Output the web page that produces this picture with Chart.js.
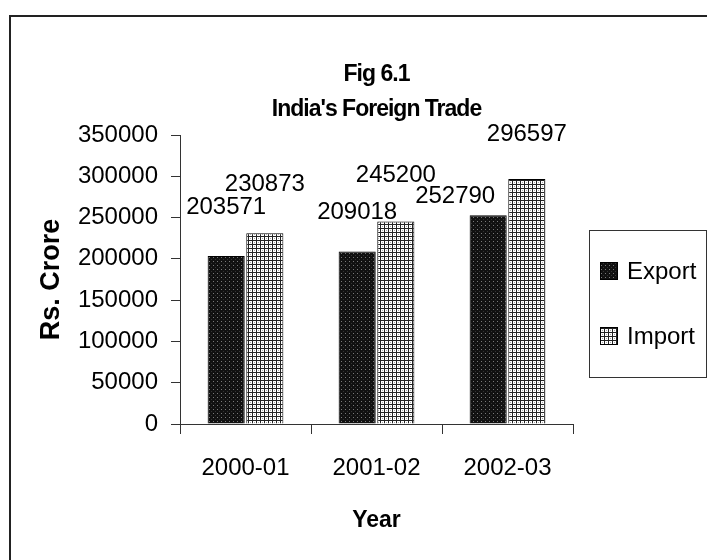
<!DOCTYPE html>
<html>
<head>
<meta charset="utf-8">
<script src="https://cdn.jsdelivr.net/npm/chart.js@4.4.1/dist/chart.umd.min.js"></script>
<style>
  html, body { margin: 0; padding: 0; background: #fff; }
  #wrap { width: 707px; height: 560px; }
</style>
</head>
<body>
<div id="wrap"><canvas id="tradeChart" width="707" height="560"></canvas></div>
<script>
const years = ["2000-01", "2001-02", "2002-03"];
const exportValues = [203571, 209018, 252790];
const importValues = [230873, 245200, 296597];
const yTickValues = [0, 50000, 100000, 150000, 200000, 250000, 300000, 350000];
const titleLines = ["Fig 6.1", "India's Foreign Trade"];

const FONT = "'Liberation Sans', Arial, sans-serif";

// small repeating fills like the old office hatch patterns
function makePattern(kind) {
    const c = document.createElement("canvas");
    c.width = 4;
    c.height = 4;
    const g = c.getContext("2d");
    if (kind === "dots") {
        g.fillStyle = "#111";
        g.fillRect(0, 0, 4, 4);
        g.fillStyle = "#7a7a7a";
        g.fillRect(1, 1, 1, 1);
        g.fillStyle = "#333";
        g.fillRect(3, 3, 1, 1);
    } else {
        g.fillStyle = "#fff";
        g.fillRect(0, 0, 4, 4);
        g.fillStyle = "#222";
        g.fillRect(0, 0, 4, 1);
        g.fillRect(0, 0, 1, 4);
        g.fillStyle = "#aaa";
        g.fillRect(2, 2, 1, 1);
    }
    return g.createPattern(c, "repeat");
}

const exportFill = makePattern("dots");
const importFill = makePattern("grid");

// label nudges relative to the top of each bar: [dx, dy]
const labelNudge = [
    [[0, -49], [0, -39], [-33, -19]],
    [[0, -49], [0, -46], [0, -45]],
];

const valueLabels = {
    id: "valueLabels",
    afterDatasetsDraw(chart) {
        const ctx = chart.ctx;
        ctx.save();
        ctx.font = "24px " + FONT;
        ctx.fillStyle = "#000";
        ctx.textAlign = "center";
        ctx.textBaseline = "middle";
        chart.data.datasets.forEach((ds, i) => {
            chart.getDatasetMeta(i).data.forEach((bar, j) => {
                const n = labelNudge[i][j];
                ctx.fillText(String(ds.data[j]), bar.x + n[0], bar.y + n[1]);
            });
        });
        ctx.restore();
    },
};

const frameAndLegend = {
    id: "frameAndLegend",
    beforeDraw(chart) {
        const ctx = chart.ctx;
        ctx.save();
        ctx.fillStyle = "#fff";
        ctx.fillRect(0, 0, chart.width, chart.height);
        ctx.strokeStyle = "#222";
        ctx.lineWidth = 2;
        ctx.strokeRect(10, 16, 800, 700);
        ctx.restore();
    },
    afterDraw(chart) {
        const ctx = chart.ctx;
        const area = chart.chartArea;
        ctx.save();

        // chart title, centred over the plot area
        ctx.fillStyle = "#000";
        ctx.font = "bold 23px " + FONT;
        ctx.letterSpacing = "-1px";
        ctx.textAlign = "center";
        ctx.textBaseline = "middle";
        const cx = (area.left + area.right) / 2;
        titleLines.forEach((t, i) => ctx.fillText(t, cx, 75 + i * 35));
        ctx.letterSpacing = "0px";

        // legend box
        const bx = area.right + 16, by = 230, bw = 117, bh = 147;
        ctx.strokeStyle = "#333";
        ctx.lineWidth = 1;
        ctx.strokeRect(bx + 0.5, by + 0.5, bw, bh);
        ctx.font = "24px " + FONT;
        ctx.textAlign = "left";
        chart.data.datasets.forEach((ds, i) => {
            const cy = by + 41 + i * 65;
            ctx.fillStyle = ds.backgroundColor;
            ctx.fillRect(bx + 11, cy - 9, 18, 18);
            ctx.strokeStyle = "#000";
            ctx.strokeRect(bx + 11.5, cy - 8.5, 17, 17);
            ctx.fillStyle = "#000";
            ctx.fillText(ds.label, bx + 38, cy + 1);
        });
        ctx.restore();
    },
};

const ctx = document.getElementById("tradeChart").getContext("2d");
const tradeChart = new Chart(ctx, {
    type: "bar",
    data: {
        labels: years,
        datasets: [
            {
                label: "Export",
                data: exportValues,
                backgroundColor: exportFill,
                borderColor: "#000",
                borderWidth: 1,
                categoryPercentage: 0.59,
                barPercentage: 0.96,
            },
            {
                label: "Import",
                data: importValues,
                backgroundColor: importFill,
                borderColor: "#000",
                borderWidth: 1,
                categoryPercentage: 0.59,
                barPercentage: 0.96,
            },
        ],
    },
    options: {
        responsive: false,
        animation: false,
        layout: {
            padding: { left: 0, right: 134, top: 135, bottom: 0 },
        },
        plugins: {
            legend: { display: false },
            tooltip: { enabled: false },
            title: { display: false },
        },
        scales: {
            x: {
                grid: {
                    drawOnChartArea: false,
                    drawTicks: true,
                    tickLength: 10,
                    color: "#333",
                    offset: true,
                },
                border: { display: true, color: "#333", width: 1 },
                ticks: {
                    color: "#000",
                    font: { family: FONT, size: 24 },
                    padding: 20,
                    maxRotation: 0,
                },
                title: {
                    display: true,
                    text: "Year",
                    color: "#000",
                    font: { family: FONT, size: 23, weight: "bold" },
                    padding: { top: 0, bottom: 26 },
                },
                afterFit(scale) {
                    scale.height = 136;
                },
            },
            y: {
                min: 0,
                max: 350000,
                grid: {
                    drawOnChartArea: false,
                    drawTicks: true,
                    tickLength: 9,
                    color: "#333",
                },
                border: { display: true, color: "#333", width: 1 },
                afterBuildTicks(scale) {
                    scale.ticks = yTickValues.map((v) => ({ value: v }));
                },
                ticks: {
                    color: "#000",
                    font: { family: FONT, size: 24 },
                    padding: 13,
                    callback: (v) => String(v),
                },
                title: {
                    display: true,
                    text: "Rs. Crore",
                    color: "#000",
                    font: { family: FONT, size: 27, weight: "bold" },
                    padding: { top: 35, bottom: 0 },
                },
                afterFit(scale) {
                    scale.width = 180;
                },
            },
        },
    },
    plugins: [frameAndLegend, valueLabels],
});
</script>
</body>
</html>
